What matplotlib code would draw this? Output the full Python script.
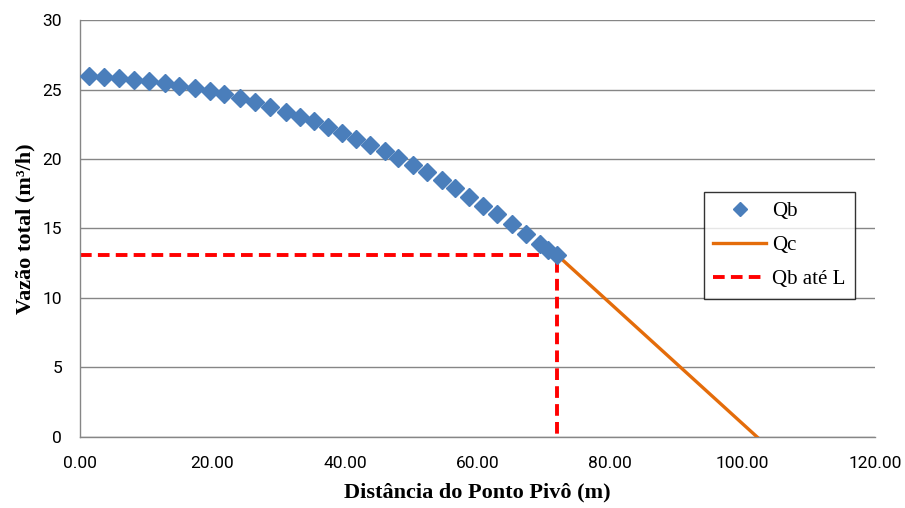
import numpy as np
import matplotlib.pyplot as plt

# distância ao ponto pivô (m) e vazão total Qb (m³/h)
dist = [1.36, 3.62, 5.93, 8.15, 10.42, 12.78, 14.99, 17.31, 19.62, 21.78,
        24.15, 26.42, 28.72, 31.05, 33.21, 35.32, 37.43, 39.55, 41.66, 43.77,
        46.04, 48.05, 50.22, 52.33, 54.60, 56.60, 58.76, 60.88, 62.99, 65.16,
        67.32, 69.43, 70.69, 71.96]
qb = [26.0, 25.9, 25.8, 25.7, 25.6, 25.45, 25.25, 25.1, 24.9, 24.65,
      24.4, 24.1, 23.75, 23.4, 23.0, 22.7, 22.3, 21.9, 21.45, 21.0,
      20.55, 20.05, 19.6, 19.05, 18.5, 17.9, 17.3, 16.65, 16.05, 15.35,
      14.6, 13.9, 13.45, 13.1]

# trecho final (Qc): de L até o raio total
L = 72.0
q_L = 13.1
R = 102.2
qc_x = [L, R]
qc_y = [q_L, 0]

# linha de referência Qb até L
ref_x = [0, L, L]
ref_y = [q_L, q_L, 0]

serif = ['Liberation Serif', 'DejaVu Serif']
tickfont = ['Roboto', 'DejaVu Sans']

fig = plt.figure(figsize=(9.05, 5.08), dpi=100)
ax = fig.add_axes([0.0884, 0.1398, 0.8785, 0.8208])

ax.plot(ref_x, ref_y, color='#FF0000', lw=2.8, dashes=(3, 1.6), label='Qb até L', zorder=2)
ax.plot(qc_x, qc_y, color='#E46C0A', lw=2.4, label='Qc', zorder=3)
ax.plot(dist, qb, 'D', color='#4A7EBB', ms=9.5, mec='#4A7EBB', label='Qb', zorder=4)

ax.set_xlim(0, 120)
ax.set_ylim(0, 30)
ax.set_xticks(np.arange(0, 121, 20))
ax.set_xticklabels(['%.2f' % v for v in np.arange(0, 121, 20)])
ax.set_yticks(np.arange(0, 31, 5))

ax.grid(axis='y', color='#868686', lw=1)
ax.set_axisbelow(True)
for s in ['top', 'right']:
    ax.spines[s].set_visible(False)
for s in ['left', 'bottom']:
    ax.spines[s].set_color('#868686')
    ax.spines[s].set_linewidth(1)
ax.tick_params(axis='x', length=0, pad=14, labelsize=12.5)
ax.tick_params(axis='y', length=0, pad=13, labelsize=12.5)
for lab in ax.get_xticklabels() + ax.get_yticklabels():
    lab.set_family(tickfont)

ax.set_xlabel('Distância do Ponto Pivô (m)', family=serif, fontweight='bold', fontsize=16, labelpad=8)
ax.set_ylabel('Vazão total (m³/h)', family=serif, fontweight='bold', fontsize=16, labelpad=5)

h, l = ax.get_legend_handles_labels()
order = [2, 1, 0]
leg = ax.legend([h[i] for i in order], [l[i] for i in order],
                loc='upper left', bbox_to_anchor=(0.785, 0.5875), borderaxespad=0,
                prop={'family': serif, 'size': 15}, frameon=True,
                fancybox=False, edgecolor='black', markerscale=0.8,
                handlelength=2.5, borderpad=0.45, labelspacing=0.7, handletextpad=0.3)
leg.get_frame().set_linewidth(1)

fig.savefig('out.png', dpi=100)
